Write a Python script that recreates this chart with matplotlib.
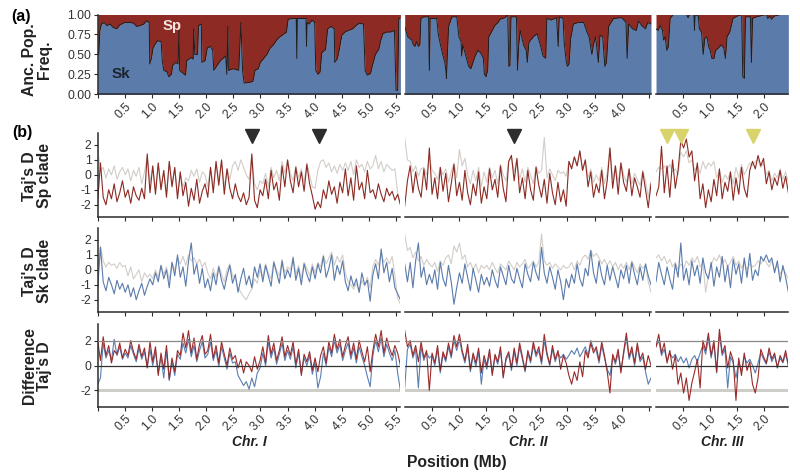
import numpy as np
import matplotlib.pyplot as plt

plt.rcParams['font.family'] = ['Liberation Sans', 'DejaVu Sans']

# ---- chromosomes ----
chrom_labels = ['Chr. I', 'Chr. II', 'Chr. III']
chrom_len = [5.58, 4.54, 2.44]
chrom_ticks = [[0, 0.5, 1.0, 1.5, 2.0, 2.5, 3.0, 3.5, 4.0, 4.5, 5.0, 5.5],
               [0.5, 1.0, 1.5, 2.0, 2.5, 3.0, 3.5, 4.0, 4.5],
               [0.5, 1.0, 1.5, 2.0]]
chrom_ticklabels = [['', '0.5', '1.0', '1.5', '2.0', '2.5', '3.0', '3.5', '4.0', '4.5', '5.0', '5.5'],
                    ['0.5', '1.0', '1.5', '2.0', '2.5', '3.0', '3.5', '4.0', ''],
                    ['0.5', '1.0', '1.5', '2.0']]

# ---- (a) ancestral population frequency (Sk fraction) ----
anc1_pos = [0.0, 0.02, 0.04, 0.07, 0.12, 0.17, 0.23, 0.28, 0.35, 0.41,
            0.5, 0.6, 0.66, 0.72, 0.78, 0.85, 0.9, 0.95, 0.96, 0.99,
            1.02, 1.06, 1.1, 1.17, 1.19, 1.22, 1.28, 1.31, 1.36, 1.38,
            1.44, 1.48, 1.50, 1.51, 1.56, 1.62, 1.64, 1.72, 1.76, 1.77,
            1.79, 1.84, 1.86, 1.91, 1.92, 1.98, 2.02, 2.08, 2.12, 2.14,
            2.2, 2.26, 2.31, 2.36, 2.38, 2.40, 2.41, 2.5, 2.6, 2.64,
            2.67, 2.7, 2.8, 2.86, 2.9, 2.96, 3.0, 3.05, 3.12, 3.18,
            3.24, 3.3, 3.36, 3.42, 3.48, 3.51, 3.6, 3.66, 3.67, 3.68,
            3.84, 3.85, 3.86, 3.9, 3.95, 4.0, 4.02, 4.06, 4.1, 4.13,
            4.2, 4.24, 4.3, 4.36, 4.37, 4.42, 4.45, 4.5, 4.56, 4.62,
            4.7, 4.76, 4.82, 4.9, 4.93, 4.97, 5.03, 5.06, 5.12, 5.18,
            5.22, 5.26, 5.33, 5.4, 5.47, 5.5, 5.53, 5.55, 5.58]
anc1_val = [0.55, 0.50, 0.80, 0.88, 0.90, 0.86, 0.88, 0.84, 0.82, 0.87,
            0.90, 0.90, 0.89, 0.85, 0.86, 0.88, 0.92, 0.90, 0.38, 0.45,
            0.58, 0.63, 0.67, 0.66, 0.42, 0.30, 0.28, 0.22, 0.25, 0.36,
            0.40, 0.38, 0.80, 0.30, 0.27, 0.24, 0.42, 0.46, 0.44, 0.82,
            0.50, 0.50, 0.86, 0.88, 0.40, 0.42, 0.58, 0.60, 0.55, 0.30,
            0.36, 0.42, 0.45, 0.48, 0.25, 0.85, 0.30, 0.32, 0.30, 0.90,
            0.30, 0.14, 0.15, 0.16, 0.30, 0.32, 0.40, 0.44, 0.50, 0.58,
            0.62, 0.68, 0.72, 0.75, 0.78, 0.94, 0.95, 0.95, 0.45, 0.95,
            0.95, 0.60, 0.90, 0.88, 0.93, 0.90, 0.30, 0.25, 0.28, 0.52,
            0.56, 0.82, 0.85, 0.82, 0.40, 0.45, 0.55, 0.74, 0.78, 0.80,
            0.82, 0.86, 0.89, 0.88, 0.30, 0.24, 0.26, 0.35, 0.50, 0.56,
            0.68, 0.76, 0.78, 0.78, 0.80, 0.05, 0.05, 0.95, 0.95]

anc2_pos = [0.0, 0.03, 0.06, 0.13, 0.16, 0.19, 0.22, 0.25, 0.28, 0.3,
            0.35, 0.44, 0.455, 0.47, 0.59, 0.62, 0.66, 0.7, 0.74, 0.76,
            0.77, 0.79, 0.81, 0.87, 0.96, 1.0, 1.04, 1.05, 1.07, 1.1,
            1.14, 1.18, 1.22, 1.26, 1.3, 1.35, 1.4, 1.45, 1.47, 1.5,
            1.53, 1.55, 1.6, 1.66, 1.72, 1.76, 1.85, 1.9, 1.92, 1.94,
            1.96, 2.06, 2.08, 2.1, 2.13, 2.19, 2.24, 2.26, 2.29, 2.37,
            2.44, 2.5, 2.55, 2.6, 2.62, 2.7, 2.8, 2.83, 2.85, 2.92,
            2.94, 2.98, 3.0, 3.03, 3.06, 3.11, 3.2, 3.3, 3.36, 3.4,
            3.45, 3.48, 3.52, 3.57, 3.6, 3.65, 3.69, 3.72, 3.76, 3.85,
            4.0, 4.08, 4.1, 4.13, 4.2, 4.27, 4.31, 4.37, 4.44, 4.48,
            4.54]
anc2_val = [0.85, 0.78, 0.72, 0.68, 0.62, 0.60, 0.66, 0.60, 0.62, 0.95,
            0.97, 0.97, 0.30, 0.95, 0.95, 0.75, 0.62, 0.50, 0.40, 0.30,
            0.20, 0.55, 0.85, 0.97, 0.97, 0.72, 0.66, 0.48, 0.62, 0.55,
            0.45, 0.35, 0.32, 0.40, 0.48, 0.55, 0.52, 0.45, 0.25, 0.22,
            0.30, 0.72, 0.78, 0.86, 0.90, 0.94, 0.96, 1.0, 0.35, 0.36,
            0.97, 0.97, 0.30, 0.60, 0.80, 0.62, 0.55, 0.40, 0.65, 0.72,
            0.76, 0.62, 0.48, 0.45, 0.95, 0.93, 0.96, 0.60, 0.97, 0.95,
            0.65, 0.40, 0.35, 0.38, 0.70, 0.88, 0.90, 0.90, 0.78, 0.72,
            0.50, 0.62, 0.72, 0.40, 0.74, 0.72, 0.35, 0.40, 0.85, 0.95,
            0.96, 0.90, 0.45, 0.88, 0.82, 0.80, 0.92, 0.86, 0.82, 0.90,
            0.88]

anc3_pos = [0.0, 0.04, 0.08, 0.12, 0.14, 0.17, 0.2, 0.23, 0.26, 0.32,
            0.56, 0.59, 0.62, 0.7, 0.71, 0.72, 0.78, 0.8, 0.84, 0.87,
            0.9, 0.94, 0.97, 1.0, 1.03, 1.07, 1.1, 1.15, 1.2, 1.25,
            1.28, 1.31, 1.36, 1.42, 1.5, 1.58, 1.6, 1.63, 1.65, 1.74,
            1.76, 1.78, 1.85, 2.03, 2.06, 2.1, 2.13, 2.18, 2.3, 2.44]
anc3_val = [0.82, 0.80, 0.86, 0.80, 0.68, 0.72, 0.55, 0.60, 0.95, 1.0,
            1.0, 0.96, 1.0, 1.0, 0.80, 1.0, 0.98, 0.82, 0.78, 0.50,
            0.70, 0.72, 0.60, 0.55, 0.45, 0.45, 0.55, 0.58, 0.62, 0.58,
            0.45, 0.72, 0.78, 0.95, 0.98, 1.0, 0.22, 0.20, 0.97, 0.97,
            0.40, 0.95, 0.97, 1.0, 0.95, 0.98, 0.94, 0.98, 1.0, 1.0]

# ---- (b) Tajima's D, Sp clade (red) and reference (grey) ----
sp1 = [-1.8, 0.8, -1.5, -2.0, -1.0, -1.6, -0.6, -1.8, -1.2, -0.4,
       -1.5, -1.0, -1.9, -0.8, -1.4, -1.7, -0.9, -1.6, 1.4, -1.2,
       0.6, -1.3, 0.8, -1.0, 0.3, -1.5, 0.9, -0.8, 0.5, -1.6,
       0.2, -1.4, -0.5, -2.1, -0.9, -1.7, -0.3, -1.9, -1.1, -0.6,
       -1.5, 0.5, -1.2, 0.9, -0.7, 1.0, -1.3, 0.4, -0.9, -1.6,
       -0.6, -1.4, -1.8, -1.2, -2.0, -1.5, 1.4, -1.7, -2.2, -1.0,
       -1.4, -0.3, -1.6, 0.3, -1.0, -0.5, -1.7, 0.6, -0.8, 1.0,
       -0.4, -1.2, 0.5, -0.8, 0.2, -1.1, 0.7, -0.6, -1.4, -2.3,
       -1.8, -2.2, -1.0, -1.6, -0.4, -1.3, -0.8, -1.9, -0.5, -1.2,
       0.4, -1.4, -0.2, -1.7, 0.6, -1.0, -0.5, -1.6, 0.3, -1.2,
       -1.0, -1.6, -0.6, -1.3, -1.8, -0.9, -1.4, -1.1, -1.7, -1.3, -2.0]
sp1_ref = [1.7, 0.3, 0.5, -0.2, 0.4, 0.0, 0.6, -0.3, 0.2, 0.5,
           0.0, 0.4, -0.4, 0.3, -0.1, 0.5, -0.6, 0.2, 1.2, -0.5,
           0.5, -1.0, 0.7, -0.8, 0.2, -1.2, 0.8, -0.6, 0.4, -1.3,
           0.1, -0.8, -0.2, -0.4, 0.3, -0.1, 0.4, -0.5, 0.2, 0.0,
           -0.8, 0.5, -0.9, 0.8, -0.4, 0.9, -0.8, 0.4, -0.3, 0.6,
           0.9, 0.3, 1.0, 0.5, 0.0, -0.3, 1.3, -0.6, -1.0, -0.4,
           -0.6, 0.1, -0.8, 0.5, -0.2, 0.3, -0.4, 0.9, 0.1, 1.0,
           0.1, -0.4, 0.6, -0.2, 0.4, -0.5, 0.8, 0.0, -0.8, -0.9,
           0.3, 0.9, 1.0, 0.5, 0.8, 0.2, 0.6, 0.1, 0.7, 0.3,
           0.8, 0.3, 0.9, 0.0, 1.0, 0.5, 0.7, 0.2, 0.9, 0.4,
           0.6, 1.3, 0.4, 0.9, 0.2, 0.7, 0.5, 0.3, 0.4, -1.2, -2.0]
sp2 = [-2.1, -0.4, 0.6, -1.2, 0.2, -0.9, -1.5, 0.4, -1.0, 1.8,
       -1.3, -0.2, -1.6, 0.5, -1.1, 0.1, -1.8, -0.6, 0.7, -1.4,
       -0.5, -1.7, 0.3, -1.2, -2.0, -0.6, -1.4, 0.2, -1.9, -0.8,
       -1.6, 0.4, -1.0, -0.3, -1.5, 0.6, -0.9, -1.8, 0.9, 1.3,
       -0.4, 1.1, -1.2, -0.2, -1.6, 0.3, -1.0, -1.7, 0.5, -0.7,
       -1.5, -0.3, -1.9, 0.1, -1.2, -2.0, -0.5, -1.8, -1.0, -2.1,
       0.9, 0.4, 1.2, 0.6, 1.6, 0.3, 1.0, -0.8, 0.2, -1.5,
       -0.6, -1.2, 0.3, -1.6, -0.4, 1.8, -0.9, 0.6, -1.3, 0.8,
       -0.5, -1.1, 0.4, -1.4, -0.2, -0.8, -1.5, 0.2, -1.0, -2.2, -0.6]
sp2_ref = [2.5, 1.0, 0.9, 0.2, 0.6, -0.1, 0.4, 0.5, 0.0, 1.2,
           0.3, 0.1, -0.3, 0.5, 0.0, 0.4, -0.5, 0.2, 0.8, -0.2,
           1.7, 0.6, 1.1, 0.0, -0.6, 0.3, -0.4, 0.5, -0.8, 0.2,
           -0.5, 0.5, -0.2, 0.3, -0.6, 0.7, 0.0, -0.4, 0.9, 1.2,
           0.2, 1.0, -0.3, 0.4, -0.5, 0.5, 0.0, -0.6, 0.6, 0.1,
           0.3, 2.5, -0.2, 0.4, 0.0, -0.4, 0.3, 0.1, 0.2, -0.1,
           0.9, 0.5, 1.2, 0.6, 1.6, 0.3, 1.0, -0.2, 0.4, -0.5,
           0.0, -0.4, 0.5, -0.6, 0.1, 1.8, -0.3, 0.6, -0.5, 0.8,
           0.0, -0.5, 0.4, -0.6, 0.1, -0.3, -0.7, 0.3, -0.4, -1.5, -0.4]
sp3 = [-1.4, -0.8, 1.9, -1.2, 0.6, -1.5, 1.0, -0.9, 0.3, 2.3,
       1.8, 2.4, 1.2, 1.6, -0.4, 0.8, -1.6, -0.6, -2.2, -1.0,
       -1.8, -0.3, -1.4, 0.4, -1.6, -0.5, -1.1, 0.2, -1.7, -0.2,
       -1.3, 0.5, -0.9, -1.5, 0.3, 0.9, 0.4, 1.3, 0.6, 1.1,
       -0.6, 0.2, -1.0, -0.2, -0.7, 0.3, -0.9, -0.1, -1.2]
sp3_ref = [0.2, 0.5, 0.4, 0.6, 0.3, 0.7, 0.2, 0.4, 0.0, 1.5,
           1.2, 1.6, 0.8, 1.0, 0.3, 0.6, 0.1, 0.9, 0.4, 0.8,
           0.6, 0.9, -0.2, 0.3, -0.5, 0.0, -0.3, 0.2, -0.6, 0.5,
           -0.2, 0.7, 0.0, 0.4, 0.8, 0.6, 0.9, 1.0, 0.5, 0.8,
           0.0, 0.3, -0.4, 0.1, -0.2, 0.4, -0.3, 0.2, -0.5]

# ---- (b) Tajima's D, Sk clade (blue) and reference (grey) ----
sk1 = [-1.2, 1.5, -0.8, -1.4, -0.5, -1.0, -1.6, -0.7, -1.3, -0.9,
       -1.5, -1.0, -1.8, -1.2, -2.0, -1.4, -0.9, -1.7, -1.1, -0.6,
       -1.0, -0.2, -0.8, 0.3, -0.6, 0.0, -1.2, 0.5, -0.4, 1.0,
       -0.5, 0.2, -1.1, 0.6, 1.8, -0.3, 0.4, -0.9, 0.1, -1.2,
       -0.6, -1.4, -0.2, -1.0, 0.2, -0.7, -1.3, -0.4, 0.3, -0.9,
       -0.3, -1.5, -0.6, 0.1, -1.0, -0.4, -1.2, 0.2, -0.5, 0.4,
       -0.8, 0.3, -0.4, -1.1, 0.5, -0.2, -0.9, 0.6, -0.6, 0.0,
       -0.5, 0.8, -0.7, 0.1, -1.0, 0.4, -0.3, -0.8, 0.2, -0.6,
       0.4, -0.2, 0.9, -0.5, 0.1, 1.0, -0.7, 0.3, -0.3, 0.6,
       -0.8, -1.4, -0.4, -1.1, -0.6, -1.5, -0.2, -1.0, -0.7, -2.1,
       -0.3, 0.4, -0.6, 1.4, -0.2, 0.5, -0.8, 0.1, -1.2, -1.6, -2.0]
sk1_ref = [0.0, 1.6, 0.6, 0.2, 0.5, 0.3, 0.4, 0.1, 0.5, 0.2,
           0.3, -0.4, 0.2, -0.6, -0.3, 0.0, -0.8, -0.2, -0.5, -0.3,
           -0.6, 0.0, -0.5, 0.3, -0.3, 0.2, -0.7, 0.5, 0.0, 0.8,
           0.4, 0.9, 0.3, 1.0, 0.6, 0.8, 0.4, 0.7, 0.2, 0.5,
           -0.2, -0.6, 0.1, -0.5, 0.3, -0.3, -0.8, 0.0, 0.4, -0.4,
           -0.6, -1.2, -1.5, -1.8, -2.0, -1.6, -1.3, -0.6, -0.9, 0.0,
           -0.5, 0.4, -0.2, -0.6, 0.6, 0.0, -0.4, 0.7, -0.2, 0.2,
           0.0, 0.9, -0.3, 0.3, -0.6, 0.5, 0.1, -0.4, 0.4, -0.2,
           0.5, 0.2, 1.0, 0.4, 0.8, 1.2, 0.3, 0.9, 0.5, 1.0,
           -0.2, -0.8, -1.0, -1.3, -0.9, -1.5, -0.7, -1.1, -0.5, -1.2,
           0.2, 0.7, 0.3, 1.1, 0.5, 0.8, 0.4, 0.9, -0.4, -1.9, -2.3]
sk2 = [0.4, -0.8, 0.5, -1.2, 0.6, 1.8, -0.5, 0.2, -1.0, -0.3,
       -0.9, 0.0, -1.3, 0.5, -0.6, -1.1, 0.3, -0.8, -2.3, -1.2,
       -0.2, -0.9, 0.4, -0.5, -1.4, 0.1, -0.7, -1.5, -0.3, -1.0,
       -0.5, -1.1, 0.0, -0.7, -1.2, 0.2, -0.4, -1.0, 0.3, -0.6,
       -0.9, 0.1, -0.6, -1.2, 0.4, -0.3, -0.8, 0.5, -0.2, -0.7,
       1.5, -0.2, -0.9, 0.2, -0.5, -1.3, 0.0, -0.8, -2.0, -0.6,
       -1.2, -0.3, -0.9, 0.4, -0.6, -1.1, 0.1, -0.4, 1.3, -0.2,
       -0.9, 0.6, -0.4, -1.0, 0.3, -0.7, 0.2, -0.5, -1.2, 0.0,
       -0.6, 0.3, -0.9, 0.5, -0.3, -1.0, 0.2, -0.7, 0.4, -0.4, -1.0]
sk2_ref = [2.4, 1.3, 1.5, 0.8, 1.2, 0.6, 0.9, 0.3, 0.7, 0.4,
           0.2, 0.5, -0.1, 0.6, 0.3, 0.8, 1.0, 0.4, 1.6, 1.2,
           1.8, 0.7, 1.0, 0.2, 0.5, 0.0, 0.4, -0.2, 0.3, 0.1,
           0.3, 0.0, 0.5, 0.1, -0.2, 0.4, 0.2, 0.0, 0.6, 0.3,
           0.0, 0.5, 0.2, 0.4, 0.7, 0.1, 0.3, 0.6, 0.2, 0.5,
           2.4, 0.6, 0.3, 0.5, 0.1, 0.4, 0.2, 0.0, 0.3, 0.1,
           0.2, 0.5, 0.0, 0.6, 0.3, 0.8, 1.0, 0.7, 1.3, 0.9,
           1.1, 0.8, 0.4, 0.7, 0.3, 0.6, 0.2, 0.5, 0.0, 0.4,
           0.1, 0.5, 0.0, 0.6, 0.2, -0.2, 0.4, 0.1, 0.3, -0.8, -1.5]
sk3 = [-0.8, 0.5, -0.3, -1.0, 0.2, -0.6, -1.3, 0.4, -0.5, 1.8,
       -0.7, 0.1, -1.0, 0.6, -0.4, 0.3, -0.9, 0.8, -0.2, -0.6,
       0.5, -1.1, 0.2, -0.5, 0.9, -0.8, 0.3, -1.2, 0.7, -0.3,
       0.4, -0.9, 0.8, -0.5, 1.1, -0.7, 0.0, -0.4, 0.9, 0.6,
       1.0, 0.5, 0.8, -0.2, 0.6, -0.8, 0.3, -0.5, -1.5]
sk3_ref = [0.8, 1.0, 0.6, 0.9, 0.4, 0.7, 0.2, 0.5, 0.0, 0.4,
           0.1, 0.6, 0.3, 0.8, 0.5, 0.9, 0.2, 0.5, -1.5, -0.4,
           0.3, 0.8, 0.6, 1.0, 0.4, 0.7, 0.2, 0.5, 0.9, 0.3,
           0.6, 0.1, 0.5, 0.0, 0.4, 0.2, 0.3, 0.6, 0.4, 0.7,
           0.5, 0.2, 0.6, 0.0, 0.3, -0.3, 0.1, -0.2, -0.6]

# ---- difference in Tajima's D (red = Sp, blue = Sk) ----
dsp1 = [2.0, 0.4, 2.3, 0.8, 1.6, 0.2, 1.2, 0.9, 1.8, 0.6,
        1.3, 0.8, 2.0, 1.1, 0.5, 1.7, 0.7, 1.4, -0.2, 1.9,
        0.3, 1.5, -0.8, 1.0, -0.3, 1.6, -1.1, 0.6, -0.5, 1.2,
        0.8, 2.6, 1.4, 2.8, 1.0, 2.2, 0.5, 1.7, 2.4, 0.9,
        1.2, 2.5, 0.6, 1.6, 0.2, 1.9, 0.9, 0.0, 1.4, 0.5,
        0.8, -0.2, 0.5, -0.6, 0.3, 0.0, -0.5, 0.7, -0.3, 0.4,
        1.5, 0.2, 2.4, 0.9, 1.8, 0.4, 1.2, 2.3, 0.7, 1.6,
        0.8, 1.9, 0.1, 1.3, -0.8, 0.9, 0.3, 1.1, -0.4, 0.6,
        -0.5, 0.8, 1.5, 0.2, 1.9, 1.0, 2.5, 1.3, 2.1, 0.7,
        1.6, 2.3, 0.8, 1.8, 0.5, 2.0, 1.1, 0.3, 1.5, -0.5,
        1.2, 2.5, 1.5, 2.8, 1.0, 2.2, 1.4, 0.8, 1.6, 1.0, 0.0]
dsk1 = [-1.5, -1.0, 1.8, 0.6, 1.2, 0.4, 2.1, 0.8, 1.5, 0.5,
        1.0, 0.6, 1.6, 0.9, 0.3, 1.4, 0.5, 1.1, -0.1, 1.3,
        0.0, 1.1, -0.6, 0.7, -1.0, 1.2, -1.2, 0.3, -0.8, 0.9,
        0.5, 1.8, 1.0, 2.1, 0.7, 1.6, 0.3, 1.2, 1.9, 0.6,
        0.9, 1.9, 0.4, 1.2, -0.1, 1.5, 0.6, -0.3, 1.0, 0.2,
        0.3, -0.8, -1.2, -1.6, -1.3, -1.9, -1.0, -1.7, -0.6, -0.2,
        1.0, 0.0, 1.9, 0.6, 1.4, 0.1, 0.9, 1.8, 0.4, 1.2,
        0.5, 1.5, -0.2, 1.0, -0.6, 0.6, 0.0, 0.8, -0.7, 0.3,
        -1.8, -0.9, 1.0, 0.0, 1.5, 0.7, 2.0, 1.0, 1.7, 0.4,
        1.2, 1.8, 0.5, 1.4, 0.2, 1.5, 0.7, 0.0, -0.9, -1.7,
        0.8, 2.0, 1.1, 2.2, 0.7, 1.7, 1.0, 0.4, 1.2, -0.6, -2.0]
dsp2 = [2.8, 1.5, 2.0, 0.8, 1.6, 0.3, 1.9, 0.6, 1.2, -2.0,
        1.0, 0.2, 1.6, -0.4, 1.1, 0.5, 1.8, 0.8, 2.4, 1.5,
        2.5, 1.2, 0.4, 1.7, -0.3, 1.0, 0.2, 1.4, -0.6, 0.8,
        0.0, 1.3, -0.8, 0.9, 0.3, 1.5, -1.0, 0.6, 1.1, -0.2,
        1.4, 0.2, 1.8, 0.7, -0.4, 1.2, 0.4, 1.9, 0.9, 1.5,
        0.3, 2.5, 1.0, 0.1, 1.6, 0.5, 1.2, -0.3, 0.8, 0.2,
        -0.8, -1.5, -0.5, -1.2, 0.3, -0.9, 1.2, 0.6, 1.8, 1.0,
        1.5, 0.4, 1.9, 0.8, -0.5, -2.2, 0.9, 0.3, 1.3, -0.6,
        1.1, 2.6, 0.7, 1.5, 0.2, 1.8, 0.5, 1.0, -0.3, 0.8, 0.0]
dsk2 = [-1.8, 1.3, 1.7, 0.6, 1.3, -1.8, 1.5, 0.4, 1.0, 0.6,
        0.8, 0.0, 1.3, -0.6, 0.9, 0.3, 1.5, 0.6, 2.0, 1.2,
        2.1, 1.0, 0.2, 1.4, -0.5, 0.8, -0.1, 1.1, -1.5, 0.5,
        -0.3, 1.0, -0.6, 0.7, 0.1, 1.2, -0.8, 0.4, 0.9, -0.4,
        1.1, 0.0, 1.5, 0.5, -0.5, 1.0, 0.2, 1.6, 0.7, 1.2,
        0.1, 2.0, 0.8, 0.0, 1.3, 0.3, 1.0, 0.6, 0.9, 0.5,
        0.8, 1.2, 0.9, 1.4, 0.7, 1.1, 1.5, 0.8, 2.0, 1.3,
        1.2, 0.2, 1.6, 0.6, -0.3, -0.8, 0.7, 0.1, 1.0, -0.4,
        0.9, 2.2, 0.5, 1.2, 0.0, 1.5, 0.3, 0.7, -0.5, -1.5, -1.0]
dsp3 = [1.5, 2.5, 1.0, 1.8, 0.2, 1.2, -0.3, 0.8, -1.5, -0.6,
        -2.2, -1.0, -2.8, -1.4, -0.5, 0.5, -1.8, 2.0, 1.2, 2.6,
        0.8, 2.0, -0.5, 2.9, 1.0, 1.6, -0.2, 1.1, 0.4, -2.8,
        0.6, -0.8, 1.0, -0.4, 0.3, -1.5, -2.2, -1.0, 1.3, 0.7,
        0.2, 1.4, 0.5, 1.0, -0.2, 0.8, 0.3, 1.2, 0.0]
dsk3 = [1.5, 2.0, 0.8, 1.3, 0.4, 1.0, 0.6, 0.9, 0.3, 0.7,
        0.2, 0.6, -0.2, 0.5, 0.8, 0.3, 1.0, 1.6, 0.9, 2.2,
        0.6, 1.7, -0.6, 2.5, 0.8, 1.3, -1.8, 0.7, 0.2, -1.0,
        0.3, -0.5, 0.7, 0.2, 0.5, 0.0, -0.6, 0.2, 1.0, 0.5,
        0.1, 1.1, 0.3, 0.8, -0.1, 0.6, 0.2, 0.9, 0.0]

# candidate regions (triangles above the Sp panel)
tri_dark = [[2.84, 4.08], [2.02], []]
tri_yellow = [[], [], [0.2, 0.47, 1.79]]

anc_pos = [anc1_pos, anc2_pos, anc3_pos]
anc_val = [anc1_val, anc2_val, anc3_val]
sp = [sp1, sp2, sp3]
sp_ref = [sp1_ref, sp2_ref, sp3_ref]
sk = [sk1, sk2, sk3]
sk_ref = [sk1_ref, sk2_ref, sk3_ref]
dsp = [dsp1, dsp2, dsp3]
dsk = [dsk1, dsk2, dsk3]

RED = '#8c2a23'
BLUE = '#5b7bab'
GREY = '#d3cdc9'
LRED = '#9a2b2b'
LBLUE = '#5a7fb2'
AXC = '#2b2b2b'

W, H = 800, 474
fig = plt.figure(figsize=(W / 100, H / 100), dpi=100)

px_per_mb = 54.25
col_left = [97.7, 404.7, 656.0]
rows = [(14.5, 94.3), (133.0, 216.7), (228.0, 311.7), (324.3, 406.7)]


def make_ax(col, row):
    top, bot = rows[row]
    left = col_left[col]
    width = chrom_len[col] * px_per_mb
    ax = fig.add_axes([left / W, 1 - bot / H, width / W, (bot - top) / H])
    ax.set_xlim(0, chrom_len[col])
    for s in ['top', 'right']:
        ax.spines[s].set_visible(False)
    ax.spines['bottom'].set_color(AXC)
    ax.spines['bottom'].set_linewidth(1.1)
    if col == 0:
        ax.spines['left'].set_color(AXC)
        ax.spines['left'].set_linewidth(1.1)
    else:
        ax.spines['left'].set_visible(False)
        ax.tick_params(axis='y', left=False, labelleft=False)
    ax.tick_params(axis='both', length=3, width=0.8, color=AXC,
                   labelsize=8.8, labelcolor='#333333', pad=1.5)
    ax.set_xticks(chrom_ticks[col])
    if row in (0, 3):
        ax.set_xticklabels(chrom_ticklabels[col], rotation=45, ha='right',
                           va='top', rotation_mode='anchor')
    else:
        ax.set_xticklabels([])
    return ax


for c in range(3):
    L = chrom_len[c]

    # (a) ancestry
    ax = make_ax(c, 0)
    ax.fill_between(anc_pos[c], 0, anc_val[c], color=BLUE, lw=0)
    ax.fill_between(anc_pos[c], anc_val[c], 1, color=RED, lw=0)
    ax.plot(anc_pos[c], anc_val[c], color='#1e1e1e', lw=0.7)
    ax.set_ylim(0, 1)
    if c == 0:
        ax.set_yticks([0, 0.25, 0.5, 0.75, 1.0])
        ax.set_yticklabels(['0.00', '0.25', '0.50', '0.75', '1.00'])
        ax.text(1.37, 0.86, 'Sp', color='#f4e6e4', fontsize=10.7,
                fontweight='bold', ha='center', va='center')
        ax.text(0.43, 0.25, 'Sk', color='#1b2430', fontsize=11,
                fontweight='bold', ha='center', va='center')

    # Sp clade
    ax = make_ax(c, 1)
    x = np.linspace(0, L, len(sp[c]))
    ax.plot(x, sp_ref[c], color=GREY, lw=0.8)
    ax.plot(x, sp[c], color=RED, lw=0.8)
    ax.set_ylim(-2.8, 2.8)
    ax.set_yticks([-2, -1, 0, 1, 2])
    if c == 0:
        ax.set_yticklabels(['-2', '-1', '0', '1', '2'])
    ax.plot(tri_dark[c], [2.6] * len(tri_dark[c]), 'v', color='#2e2d2b',
            ms=10, clip_on=False, ls='none')
    ax.plot(tri_yellow[c], [2.6] * len(tri_yellow[c]), 'v', color='#d8d36b',
            ms=10, clip_on=False, ls='none')

    # Sk clade
    ax = make_ax(c, 2)
    x = np.linspace(0, L, len(sk[c]))
    ax.plot(x, sk_ref[c], color=GREY, lw=0.8)
    ax.plot(x, sk[c], color=BLUE, lw=0.8)
    ax.set_ylim(-2.8, 2.8)
    ax.set_yticks([-2, -1, 0, 1, 2])
    if c == 0:
        ax.set_yticklabels(['-2', '-1', '0', '1', '2'])

    # difference
    ax = make_ax(c, 3)
    x = np.linspace(0, L, len(dsp[c]))
    ax.axhline(-2, color='#cfcdc8', lw=2.2, zorder=1)
    ax.plot(x, dsk[c], color=LBLUE, lw=0.8, zorder=2)
    ax.plot(x, dsp[c], color=LRED, lw=0.8, zorder=2)
    ax.axhline(2, color='#8f8783', lw=0.9, zorder=3)
    ax.axhline(0, color='#333333', lw=0.9, zorder=3)
    ax.set_ylim(-3.3, 3.3)
    ax.set_yticks([-2, 0, 2])
    if c == 0:
        ax.set_yticklabels(['-2', '0', '2'])

    # chromosome name
    xc = (col_left[c] + L * px_per_mb / 2) / W
    fig.text(xc, 1 - 442 / H, chrom_labels[c], fontsize=10, fontweight='bold',
             fontstyle='italic', ha='center', va='center', color='#222222')

# row titles
ylabs = ['Anc. Pop.\nFreq.', "Taj's D\nSp clade", "Taj's D\nSk clade", 'Difference\nTaj\'s D']
ylab_y = [60, 176, 271, 366]
for lab, yy in zip(ylabs, ylab_y):
    fig.text(37 / W, 1 - yy / H, lab, rotation=90, fontsize=11.3, fontweight='bold',
             ha='center', va='center', linespacing=0.95, color='#222222')

fig.text(21 / W, 1 - 16 / H, '(a)', fontsize=11.5, fontweight='bold', ha='center', va='center')
fig.text(22 / W, 1 - 133 / H, '(b)', fontsize=11.5, fontweight='bold', ha='center', va='center')
fig.text(457 / W, 1 - 462 / H, 'Position (Mb)', fontsize=11.3, fontweight='bold',
         ha='center', va='center', color='#222222')

fig.savefig('out.png', dpi=100)
